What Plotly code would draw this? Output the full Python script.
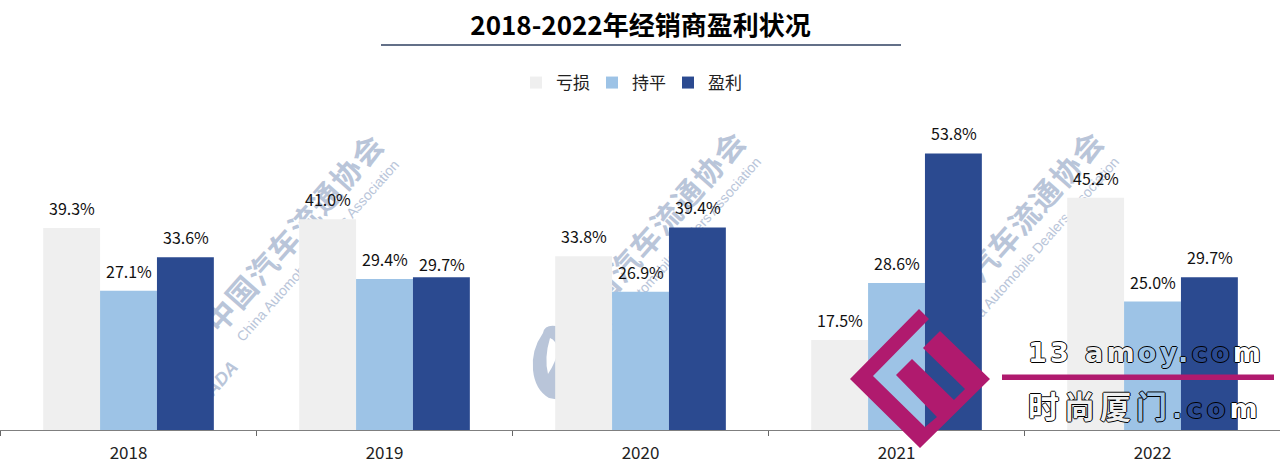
import plotly.graph_objects as go

categories = ["2018", "2019", "2020", "2021", "2022"]
loss = [39.3, 41.0, 33.8, 17.5, 45.2]
flat = [27.1, 29.4, 26.9, 28.6, 25.0]
profit = [33.6, 29.7, 39.4, 53.8, 29.7]
series_names = ["亏损", "持平", "盈利"]
title_text = "2018-2022年经销商盈利状况"

W, H = 1281, 466
M_L, M_R, M_T, M_B = 0, 1, 90, 36
PW, PH = W - M_L - M_R, H - M_T - M_B
PX_PER_PCT = 5.14
BAR_COLORS = ["#EFEFEF", "#9DC3E6", "#2B4A90"]
CN = "Noto Sans CJK SC"
FONT = "Noto Sans CJK SC, sans-serif"
WM = "#B9C5D9"
MAG = "#B01A6E"


def px(x):
    return (x - M_L) / PW


def py(y):
    return (H - M_B - y) / PH


fig = go.Figure()
for name, vals, col in zip(series_names, [loss, flat, profit], BAR_COLORS):
    fig.add_bar(x=categories, y=vals, name=name, marker=dict(color=col, line_width=0))

annotations = []
shapes = []
for k, vals in enumerate([loss, flat, profit]):
    for i, (cat, v) in enumerate(zip(categories, vals)):
        lift = 13 if (cat == "2019" and k == 2) else 20
        annotations.append(dict(x=i, y=v, xref="x", yref="y", text=f"{v:.1f}%", showarrow=False,
                                xshift=(k - 1) * 57, yshift=lift, yanchor="middle",
                                font=dict(family=FONT, size=16, color="#111111")))


def label_shape(cx, cy, text, size, family, angle=-48.5, w=400, h=60):
    shapes.append(dict(type="rect", xref="paper", yref="paper", layer="below",
                       x0=px(cx - w / 2), x1=px(cx + w / 2), y0=py(cy + h / 2), y1=py(cy - h / 2),
                       line_width=0, fillcolor="rgba(0,0,0,0)",
                       label=dict(text=text, textposition="middle center", textangle=angle,
                                  font=dict(family=family, size=size, color=WM))))


for dx, dy in [(0, 0), (362, -3), (720, -3)]:
    label_shape(297 + dx, 235 + dy,
                '<span style="letter-spacing:1.5px;font-weight:700">中国汽车流通协会</span>', 30, CN)
    label_shape(317 + dx, 250 + dy, "China Automobile Dealers Association", 14, "Liberation Sans")
label_shape(216, 382, "<b><i>CADA</i></b>", 18, "Liberation Sans")

# association emblem, mostly hidden by the bars
shapes.append(dict(type="path", xref="paper", yref="paper", layer="below", line_width=0, fillcolor=WM,
                   fillrule="evenodd",
                   path=" ".join([
                       f"M{px(560):.5f},{py(327):.5f}",
                       f"Q{px(545):.5f},{py(323):.5f} {px(543):.5f},{py(333):.5f}",
                       f"Q{px(531):.5f},{py(350):.5f} {px(533):.5f},{py(370):.5f}",
                       f"Q{px(535):.5f},{py(390):.5f} {px(549):.5f},{py(398):.5f}",
                       f"L{px(560):.5f},{py(400):.5f} Z",
                       f"M{px(550):.5f},{py(338):.5f}",
                       f"Q{px(544):.5f},{py(358):.5f} {px(548):.5f},{py(374):.5f}",
                       f"Q{px(556):.5f},{py(362):.5f} {px(558):.5f},{py(350):.5f}",
                       f"Q{px(556):.5f},{py(340):.5f} {px(550):.5f},{py(338):.5f} Z",
                   ])))

# title underline
shapes.append(dict(type="line", xref="paper", yref="paper", x0=px(381), x1=px(901), y0=py(45), y1=py(45),
                   line=dict(color="#2F4060", width=1.5)))

# site stamp in front of the chart
logo = [(850, 379), (919, 309), (929, 319), (873, 376), (925, 427), (937, 417), (896, 375), (912, 359),
        (954, 400), (965, 389), (923, 348), (940, 331), (990, 379), (920, 448)]
shapes.append(dict(type="path", xref="paper", yref="paper", layer="above", line_width=0, fillcolor=MAG,
                   path="M" + " L".join(f"{px(a):.5f},{py(b):.5f}" for a, b in logo) + " Z"))
shapes.append(dict(type="rect", xref="paper", yref="paper", layer="above", line_width=0, fillcolor=MAG,
                   x0=px(1002), x1=px(1274), y0=py(380), y1=py(374.5)))

OUTLINE = "1px 0 0 #000, -1px 0 0 #000, 0 1px 0 #000, 0 -1px 0 #000"


def run(t, col, extra=""):
    return f'<span style="color:{col};{extra}">{t}</span>'


ls = "letter-spacing:3.3px;"
line1 = (run("13 ", "#FFFFFF", ls) + run("am", "#EFEFEF", ls) + run("oy.", "#9DC3E6", ls)
         + run("co", "#2B4A90", ls) + run("m", "#FFFFFF", ls))
cj = f"font-family:'{CN}';font-size:31px;font-weight:700;letter-spacing:5px;"
ls2 = "letter-spacing:4.2px;"
line2 = (run("时", "#FFFFFF", cj) + run("尚厦", "#EFEFEF", cj) + run("门", "#9DC3E6", cj)
         + run(".", "#9DC3E6", ls2) + run("co", "#2B4A90", ls2) + run("m", "#FFFFFF", ls2))
stamp_font = dict(family="DejaVu Sans", size=27, weight=700, color="#FFFFFF", shadow=OUTLINE)
annotations.append(dict(xref="paper", yref="paper", x=px(1026), y=py(352), text=line1, showarrow=False,
                        xanchor="left", yanchor="middle", font=stamp_font))
annotations.append(dict(xref="paper", yref="paper", x=px(1026), y=py(404), text=line2, showarrow=False,
                        xanchor="left", yanchor="middle", font=stamp_font))

fig.update_layout(
    width=W, height=H, autosize=False,
    margin=dict(l=M_L, r=M_R, t=M_T, b=M_B, pad=0),
    paper_bgcolor="white", plot_bgcolor="rgba(0,0,0,0)",
    barmode="group", bargap=1 / 3, bargroupgap=0,
    title=dict(text=f"<b>{title_text}</b>", x=640.5 / W, xanchor="center", y=1 - 26 / H, yanchor="middle",
               font=dict(family=CN, size=26, color="#000000")),
    legend=dict(orientation="h", x=px(630), xanchor="center", y=py(83), yanchor="middle",
                font=dict(family=CN, size=17, color="#222222"), entrywidth=31, entrywidthmode="pixels",
                itemclick=False, itemdoubleclick=False),
    xaxis=dict(type="category", range=[-0.502, 4.498], tickmode="array", tickvals=categories, ticktext=categories,
               tickson="boundaries", ticks="outside", ticklen=5, tickcolor="#666666", tickwidth=1,
               ticklabelstandoff=8,
               showline=True, linecolor="#7F7F7F", linewidth=1, showgrid=False, zeroline=False,
               tickfont=dict(family=FONT, size=17, color="#222222")),
    yaxis=dict(visible=False, range=[0, PH / PX_PER_PCT]),
    shapes=shapes, annotations=annotations, showlegend=True,
)

fig.write_html("out.html", config={"displayModeBar": False},
               post_script="document.body.style.margin='0';document.body.style.overflow='hidden';")
